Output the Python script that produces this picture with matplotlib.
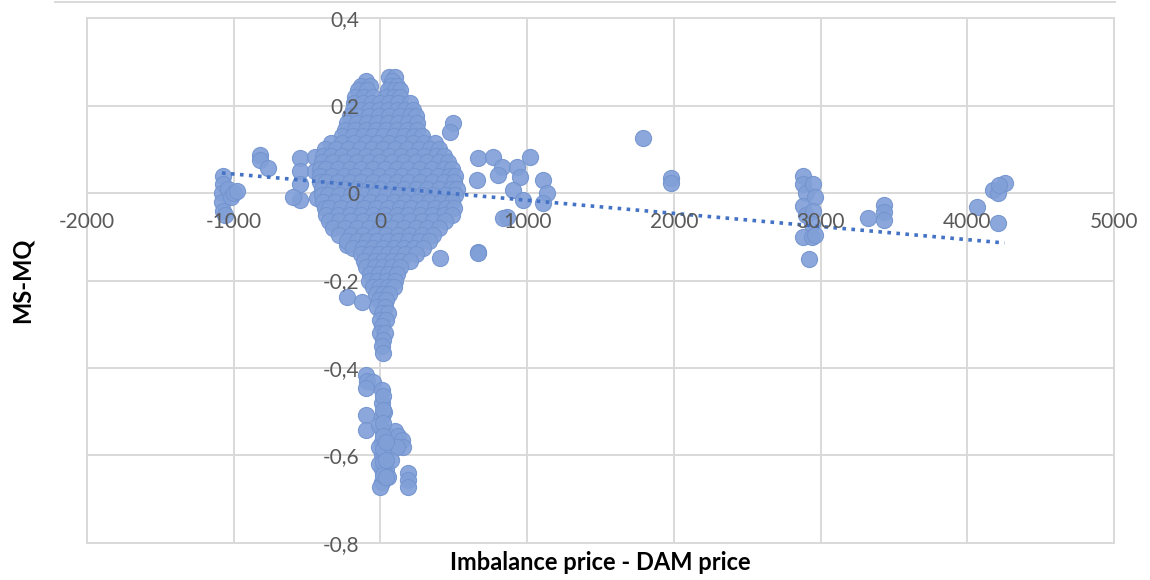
import numpy as np
import matplotlib
matplotlib.use("Agg")
import matplotlib.pyplot as plt
from matplotlib.ticker import FuncFormatter, MultipleLocator
from matplotlib.lines import Line2D

plt.rcParams['font.family'] = ['Lato', 'DejaVu Sans']

# --- data (x = imbalance price - DAM price, y = MS-MQ) ---
# main blob around zero, listed row by row
blob_rows = {
    0.265: [60, 100],
    0.255: [-100, 80],
    0.245: [-130, -70, 70, 110],
    0.235: [-150, -90, 50, 100, 130],
    0.22: [-170, -110, -50, 40, 90, 130],
    0.205: [-180, -120, -60, 0, 60, 120, 200],
    0.19: [-190, -130, -70, -10, 50, 110, 170, 220],
    0.175: [-210, -150, -80, -10, 60, 130, 200, 240],
    0.16: [-230, -160, -90, -20, 50, 120, 190, 250],
    0.145: [-240, -170, -100, -30, 40, 110, 180, 250],
    0.13: [-260, -190, -120, -50, 20, 90, 160, 230, 280],
    0.115: [-340, -260, -180, -100, -20, 60, 140, 220, 300, 370],
    0.10: [-380, -300, -220, -140, -60, 20, 100, 180, 260, 340, 400],
    0.085: [-390, -340, -260, -180, -100, -20, 60, 140, 220, 300, 380, 430],
    0.07: [-400, -320, -240, -160, -80, 0, 80, 160, 240, 320, 400, 460],
    0.055: [-410, -370, -290, -210, -130, -50, 30, 110, 190, 270, 350, 430, 490],
    0.04: [-410, -330, -250, -170, -90, -10, 70, 150, 230, 310, 390, 470, 510],
    0.025: [-410, -370, -290, -210, -130, -50, 30, 110, 190, 270, 350, 430, 500],
    0.01: [-400, -320, -240, -160, -80, 0, 80, 160, 240, 320, 400, 480, 520],
    -0.005: [-400, -360, -280, -200, -120, -40, 40, 120, 200, 280, 360, 440, 510],
    -0.02: [-390, -310, -230, -150, -70, 10, 90, 170, 250, 330, 410, 490],
    -0.035: [-380, -350, -270, -190, -110, -30, 50, 130, 210, 290, 370, 450, 500],
    -0.05: [-370, -290, -210, -130, -50, 30, 110, 190, 270, 350, 430, 490],
    -0.065: [-350, -280, -200, -120, -40, 40, 120, 200, 280, 360, 440],
    -0.08: [-320, -240, -160, -80, 0, 80, 160, 240, 320, 400],
    -0.095: [-280, -200, -120, -40, 40, 120, 200, 280, 360],
    -0.11: [-230, -160, -90, -20, 50, 120, 190, 260, 330],
    -0.125: [-190, -120, -50, 20, 90, 160, 230, 290],
    -0.14: [-130, -70, -10, 50, 110, 170, 240],
    -0.155: [-110, -40, 20, 80, 140, 200],
    -0.17: [-100, -40, 20, 80, 130],
    -0.185: [-70, -10, 50, 110],
    -0.20: [-80, -20, 40, 100],
    -0.215: [-50, 0, 50, 90],
    -0.23: [-30, 20, 60],
    -0.245: [-10, 40],
    -0.26: [-20, 30],
    -0.275: [10, 50],
    -0.29: [0, 40],
    -0.305: [10],
    -0.32: [0, 30],
    -0.335: [20],
    -0.35: [10],
    -0.365: [15],
}

# scattered groups outside the blob
other_x = [
    -1070, -1070, -1080, -1080, -1070, -1060, -1040, -1020, -1000, -980,   # near -1000
    -818, -818, -763,                                                      # near -800
    -545, -545, -545, -545, -443, -443, -430, -593,                        # near -500
    -225, -123, -225, -320, 409, 498, 477, 668,                            # blob edge
    668, 770, 832, 661, 798, 934, 954, 1022, 907, 975, 866, 1111, 1138,    # 600-1100
    1111, 838, 668,
    1790, 1980, 1980,                                                      # ~2000
    2880, 2880, 2900, 2880, 2900, 2880, 2950, 2960, 2950, 2940, 2940,      # ~3000
    2920, 2960,
    3320, 3430, 3430, 3430,                                                # ~3400
    4063, 4206, 4172, 4206, 4254, 4213,                                    # ~4200
    -100, -90, -50, -95, 10, 10, 10, 10, 10, 10, 10, 10, 0, 40, 40, 40,    # lower column
    50, -100, -100, 100, 120, 150, 155, 110, 70, 190, 190, 190, -10, -10,
    -10, 25,
    20, 20, 20, 20, 20, 20, 20, 40, 40, 40,
]
other_y = [
    0.04, 0.02, 0.0, -0.02, -0.04, -0.05, 0.01, -0.01, 0.0, 0.005,
    0.087, 0.075, 0.057,
    0.08, 0.05, 0.02, -0.016, 0.082, 0.05, -0.011, -0.009,
    -0.238, -0.249, -0.119, -0.069, -0.149, 0.16, 0.14, -0.135,
    0.08, 0.082, 0.06, 0.03, 0.041, 0.06, 0.037, 0.082, 0.007, -0.016, -0.055, 0.03, 0.0,
    -0.023, -0.057, -0.137,
    0.125, 0.035, 0.022,
    0.04, 0.02, 0.0, -0.03, -0.05, -0.10, 0.02, -0.01, -0.04, -0.07, -0.10,
    -0.15, -0.095,
    -0.057, -0.027, -0.043, -0.062,
    -0.032, -0.069, 0.007, 0.0, 0.023, 0.018,
    -0.415, -0.43, -0.432, -0.445, -0.45, -0.48, -0.51, -0.54, -0.57, -0.60, -0.63, -0.66, -0.672,
    -0.55, -0.59, -0.63,
    -0.65, -0.507, -0.542, -0.545, -0.555, -0.565, -0.58, -0.58, -0.61, -0.64, -0.655, -0.672, -0.62, -0.58,
    -0.53, -0.50,
    -0.465, -0.495, -0.525, -0.555, -0.585, -0.615, -0.645, -0.57, -0.61, -0.65,
]

# linear trend line as shown (slope, intercept)
trend_slope = -3.0e-5
trend_intercept = 0.0134

x_ticks = [-2000, -1000, 0, 1000, 2000, 3000, 4000, 5000]
y_ticks = [-0.8, -0.6, -0.4, -0.2, 0, 0.2, 0.4]

xs = list(other_x)
ys = list(other_y)
for yv, row in blob_rows.items():
    xs += row
    ys += [yv] * len(row)
xs = np.array(xs, dtype=float)
ys = np.array(ys, dtype=float)

fig = plt.figure(figsize=(11.5, 5.8), dpi=100)
ax = fig.add_axes([87 / 1150, 1 - 543 / 580, (1114 - 87) / 1150, (543 - 18) / 580])

grid_col = '#d9d9d9'
# gridlines drawn under the points, tick labels stay on top (like Excel)
for xv in x_ticks:
    ax.axvline(xv, color=grid_col, lw=1.4, zorder=0.5, clip_on=False)
for yv in y_ticks:
    ax.axhline(yv, color=grid_col, lw=1.4, zorder=0.5, clip_on=False)

ax.scatter(xs, ys, s=135, c='#82a0d8', edgecolors='#7394cf', linewidths=0.8,
           alpha=0.92, zorder=2)

tx = np.array([xs.min(), xs.max()])
ax.plot(tx, trend_slope * tx + trend_intercept, color='#4472C4', lw=2.6,
        linestyle=(0, (1, 1.5)), zorder=2.2)

ax.set_xlim(x_ticks[0], x_ticks[-1])
ax.set_ylim(y_ticks[0], y_ticks[-1])
ax.xaxis.set_major_locator(MultipleLocator(1000))
ax.yaxis.set_major_locator(MultipleLocator(0.2))

def comma_fmt(v, pos):
    if abs(v) < 1e-9:
        return '0'
    return ('%.1f' % v).replace('.', ',')

ax.yaxis.set_major_formatter(FuncFormatter(comma_fmt))
ax.xaxis.set_major_formatter(FuncFormatter(lambda v, p: '%d' % v))

# axes cross at zero, like in Excel
ax.spines['left'].set_position(('data', 0))
ax.spines['bottom'].set_position(('data', 0))
for s in ['left', 'bottom', 'top', 'right']:
    ax.spines[s].set_color('none')

ax.set_axisbelow(False)
ax.tick_params(axis='both', length=0, labelsize=15, labelcolor='#595959')
ax.tick_params(axis='x', pad=14)
ax.tick_params(axis='y', pad=15)

fig.text(22 / 1150, 1 - 280 / 580, 'MS-MQ', rotation=90, ha='center', va='center',
         fontsize=17, fontweight='bold')
fig.text(600 / 1150, 1 - 562 / 580, 'Imbalance price - DAM price', ha='center',
         va='center', fontsize=17, fontweight='bold')

fig.add_artist(Line2D([55 / 1150, 1115 / 1150], [1 - 1.5 / 580] * 2, color=grid_col, lw=1.4))

fig.savefig('out.png', dpi=100)
